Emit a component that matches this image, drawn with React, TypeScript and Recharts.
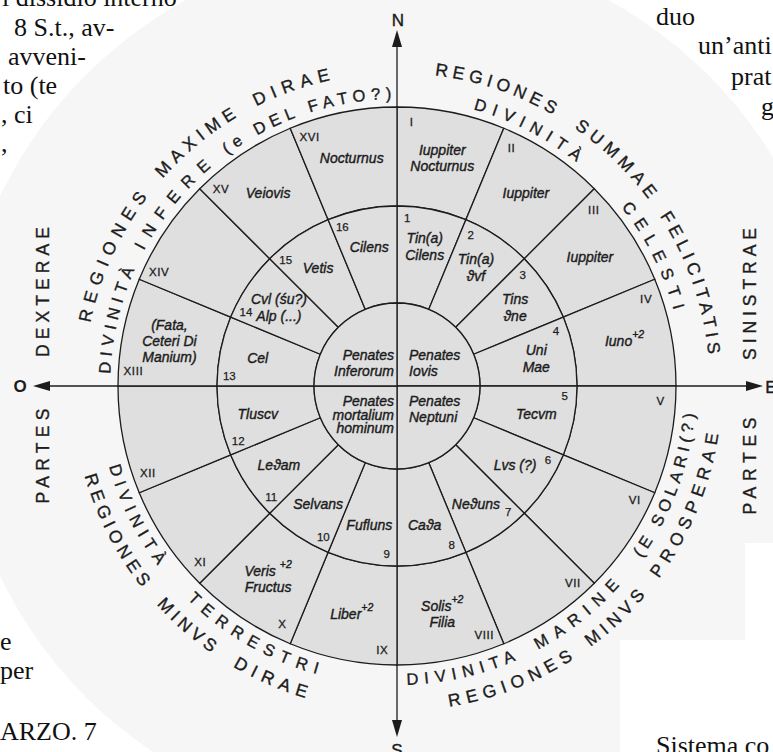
import React from 'react';
import { PieChart, Pie, Cell, Customized } from 'recharts';

const CHART_W = 773;
const CHART_H = 752;
const CX = 397;
const CY = 386;
const RAD = Math.PI / 180;
const R_INNER = 83;
const R_MID = 180;
const R_OUT = 279;

// ---- data: the sixteen outer regions ----
const outerRegionNumerals = ['I', 'II', 'III', 'IV', 'V', 'VI', 'VII', 'VIII', 'IX', 'X', 'XI', 'XII', 'XIII', 'XIV', 'XV', 'XVI'];
const outerRegionDeities: string[][] = [
  ['Iuppiter', 'Nocturnus'],
  ['Iuppiter'],
  ['Iuppiter'],
  ['Iuno^+2'],
  [],
  [],
  [],
  ['Solis^+2', 'Filia'],
  ['Liber^+2'],
  ['Veris ^+2', 'Fructus'],
  [],
  [],
  ['(Fata,', 'Ceteri Di', 'Manium)'],
  [],
  ['Veiovis'],
  ['Nocturnus'],
];
const outerRegionShares = [1, 1, 1, 1, 1, 1, 1, 1, 1, 1, 1, 1, 1, 1, 1, 1];

// ---- data: the sixteen middle regions ----
const middleRegionNumbers = ['1', '2', '3', '4', '5', '6', '7', '8', '9', '10', '11', '12', '13', '14', '15', '16'];
const middleRegionDeities: string[][] = [
  ['Tin(a)', 'Cilens'],
  ['Tin(a)', 'ϑvf'],
  ['Tins', 'ϑne'],
  ['Uni', 'Mae'],
  ['Tecvm'],
  ['Lvs (?)'],
  ['Neϑuns'],
  ['Caϑa'],
  ['Fufluns'],
  ['Selvans'],
  ['Leϑam'],
  ['Tluscv'],
  ['Cel'],
  ['Cvl (śu?)', 'Alp (...)'],
  ['Vetis'],
  ['Cilens'],
];
const middleRegionShares = [1, 1, 1, 1, 1, 1, 1, 1, 1, 1, 1, 1, 1, 1, 1, 1];

// ---- data: the four central quadrants (NE, SE, SW, NW) ----
const innerQuadrantDeities: string[][] = [
  ['Penates', 'Iovis'],
  ['Penates', 'Neptuni'],
  ['Penates', 'mortalium', 'hominum'],
  ['Penates', 'Inferorum'],
];
const innerQuadrantShares = [1, 1, 1, 1];

// ---- curved legends around the disc (compass degrees of first / last letter) ----
const bandTexts = ['REGIONES', 'MAXIME', 'DIRAE', 'DIVINITÀ', 'INFERE', '(e DEL FATO?)',
  'REGIONES', 'SUMMAE', 'FELICITATIS', 'DIVINITÀ', 'CELESTI',
  'DIVINITA', 'MARINE', '(E SOLARI(?)', 'REGIONES', 'MINVS', 'PROSPERAE',
  'DIVINITÀ', 'TERRESTRI', 'REGIONES', 'MINVS', 'DIRAE'];
const bandFrom = [282.8, 312.7, 334.5, 273.7, 299.4, 325.0,
  8.1, 35.7, 58.3, 16.7, 52.7,
  176.9, 150.6, 123.9, 169.6, 142.3, 125.2,
  253.2, 223.3, 252.8, 226.6, 209.2];
const bandTo = [305.9, 328.0, 346.5, 292.6, 318.4, 357.6,
  28.7, 52.2, 83.0, 37.4, 73.4,
  157.8, 133.1, 96.6, 148.3, 131.3, 99.7,
  234.4, 196.8, 232.9, 216.0, 197.5];
const bandOuter = [true, true, true, false, false, false,
  true, true, true, false, false,
  false, false, false, true, true, true,
  false, false, true, true, true];

// ---- side legends ----
const sideTexts = ['DEXTERAE', 'PARTES', 'SINISTRAE', 'PARTES'];
// ---- page text around the figure ----
const pageTexts = ['l dissidio interno', '8 S.t., av-', 'avveni-', 'to (te', ', ci', ',', 'duo', 'un’anti', 'prat', 'g', 'e', 'per', 'ARZO. 7', 'Sistema co'];

const outerData = outerRegionNumerals.map((id, i) => ({ id, lines: outerRegionDeities[i], value: outerRegionShares[i] }));
const middleData = middleRegionNumbers.map((id, i) => ({ id, lines: middleRegionDeities[i], value: middleRegionShares[i] }));
const innerData = innerQuadrantDeities.map((lines, i) => ({ id: 'q' + i, lines, value: innerQuadrantShares[i] }));

const SANS = '"Liberation Sans", Arial, Helvetica, sans-serif';
const SERIF = '"Liberation Serif", "Times New Roman", serif';
const INK = '#1c1c1c';
const DISC = '#dfdfdf';

const toXY = (r: number, c: number) => ({ x: CX + r * Math.sin(c * RAD), y: CY - r * Math.cos(c * RAD) });
const norm = (c: number) => ((c % 360) + 360) % 360;

function lineContent(line: string) {
  const k = line.indexOf('^');
  if (k < 0) return line;
  return (
    <>
      {line.slice(0, k)}
      <tspan dy={-7} fontSize={10.5}>{line.slice(k + 1)}</tspan>
    </>
  );
}

function renderLines(lines: string[], x: number, yCenter: number, anchor: string, lh: number, size: number) {
  const n = lines.length;
  if (!n) return null;
  return (
    <text textAnchor={anchor} fontFamily={SANS} fontStyle="italic" fontSize={size} fill={INK}
      stroke={INK} strokeWidth={0.4} dominantBaseline="central">
      {lines.map((l, i) => (
        <tspan key={i} x={x} y={yCenter - ((n - 1) * lh) / 2 + i * lh}>
          {lineContent(l)}
        </tspan>
      ))}
    </text>
  );
}

const outerLabel = (p: any) => {
  const c = 90 - p.midAngle;
  const d = outerData[p.index];
  const num = toXY(264, c - 11.25 + 3.2);
  const lab = toXY(232, c);
  return (
    <g key={'ol' + p.index}>
      <text x={num.x} y={num.y} textAnchor="middle" dominantBaseline="central" fontFamily={SANS} fontSize={11.5}
        letterSpacing={0.6} fill={INK} stroke={INK} strokeWidth={0.3}>
        {d.id}
      </text>
      {renderLines(d.lines, lab.x, lab.y, 'middle', 16, 14)}
    </g>
  );
};

const middleLabel = (p: any) => {
  const c = 90 - p.midAngle;
  const d = middleData[p.index];
  const num = toXY(168, c - 11.25 + 3.5);
  const lab = toXY(142, c);
  return (
    <g key={'ml' + p.index}>
      <text x={num.x} y={num.y} textAnchor="middle" dominantBaseline="central" fontFamily={SANS} fontSize={11.5}
        fill={INK} stroke={INK} strokeWidth={0.25}>
        {d.id}
      </text>
      {renderLines(d.lines, lab.x, lab.y, 'middle', 17, 14)}
    </g>
  );
};

const innerLabel = (p: any) => {
  const c = norm(90 - p.midAngle);
  const d = innerData[p.index];
  const east = c < 180;
  const north = c < 90 || c > 270;
  const n = d.lines.length;
  const lh = n > 2 ? 13.5 : 16;
  const x = east ? CX + 12 : CX - 3;
  const first = north ? CY - 31 : CY + 15;
  return <g key={'il' + p.index}>{renderLines(d.lines, x, first + ((n - 1) * lh) / 2, east ? 'start' : 'end', lh, 14)}</g>;
};

function arcD(r: number, a1: number, a2: number) {
  const p1 = toXY(r, a1);
  const p2 = toXY(r, a2);
  const sweep = a2 > a1 ? 1 : 0;
  const large = Math.abs(a2 - a1) > 180 ? 1 : 0;
  return `M ${p1.x} ${p1.y} A ${r} ${r} 0 ${large} ${sweep} ${p2.x} ${p2.y}`;
}

const Overlay = () => {
  const arrow = (tipX: number, tipY: number, dx: number, dy: number) => {
    const len = 17;
    const half = 5;
    const bx = tipX - dx * len;
    const by = tipY - dy * len;
    const px = -dy * half;
    const py = dx * half;
    return <polygon points={`${tipX},${tipY} ${bx + px},${by + py} ${bx - px},${by - py}`} fill={INK} />;
  };
  const sideX = [43, 43, 750, 750];
  const sideY = [292, 456, 294, 466];
  const sideLen = [130, 95, 132, 97];
  const pageX = [2, 14, 8, 3, 1, 1, 656, 698, 731, 761, 0, 0, 0, 656];
  const pageY = [6, 36, 65, 94, 123, 152, 25, 54, 85, 115, 650, 679, 740, 754];
  return (
    <g>
      {/* axes */}
      <line x1={CX} y1={40} x2={CX} y2={727} stroke={INK} strokeWidth={1.3} />
      <line x1={43} y1={CY} x2={753} y2={CY} stroke={INK} strokeWidth={1.3} />
      {arrow(CX, 30, 0, -1)}
      {arrow(CX, 737, 0, 1)}
      {arrow(33, CY, -1, 0)}
      {arrow(763, CY, 1, 0)}
      <text x={CX + 1} y={20} textAnchor="middle" dominantBaseline="central" fontFamily={SANS} fontSize={17} fill={INK} stroke={INK} strokeWidth={0.4}>N</text>
      <text x={CX} y={750} textAnchor="middle" dominantBaseline="central" fontFamily={SANS} fontSize={17} fill={INK} stroke={INK} strokeWidth={0.4}>S</text>
      <text x={20} y={CY} textAnchor="middle" dominantBaseline="central" fontFamily={SANS} fontSize={17} fontWeight="bold" fill={INK}>O</text>
      <text x={771} y={CY + 1} textAnchor="middle" dominantBaseline="central" fontFamily={SANS} fontSize={17} fill={INK} stroke={INK} strokeWidth={0.4}>E</text>

      {/* curved legends */}
      <defs>
        {bandTexts.map((t, i) => {
          const r = bandOuter[i] ? 319 : 293;
          const dir = bandTo[i] > bandFrom[i] ? 1 : -1;
          const ext = 6.5 / r / RAD;
          return <path key={i} id={'band' + i} d={arcD(r, bandFrom[i] - dir * ext, bandTo[i] + dir * ext)} fill="none" />;
        })}
      </defs>
      {bandTexts.map((t, i) => {
        const r = bandOuter[i] ? 319 : 293;
        const ext = 6.5 / r / RAD;
        const len = r * (Math.abs(bandTo[i] - bandFrom[i]) + 2 * ext) * RAD;
        return (
          <text key={i} fontFamily={SANS} fontSize={bandOuter[i] ? 17.5 : 16.5} fill={INK} stroke={INK} strokeWidth={0.35}
            dominantBaseline="central">
            <textPath href={'#band' + i} textLength={len} lengthAdjust="spacing">{t}</textPath>
          </text>
        );
      })}

      {/* side legends */}
      {sideTexts.map((t, i) => (
        <text key={i} transform={`translate(${sideX[i]},${sideY[i]}) rotate(-90)`} textAnchor="middle" dominantBaseline="central"
          fontFamily={SANS} fontSize={17.5} fill={INK} stroke={INK} strokeWidth={0.35} textLength={sideLen[i]} lengthAdjust="spacing">{t}</text>
      ))}

      {/* page text */}
      {pageTexts.map((t, i) => (
        <text key={i} x={pageX[i]} y={pageY[i]} fontFamily={SERIF} fontSize={26} fill="#111">{t}</text>
      ))}
    </g>
  );
};

export default function App() {
  return (
    <div style={{ position: 'relative', width: CHART_W, height: CHART_H, overflow: 'hidden', background: '#fff' }}>
      <style>{'body{margin:0}'}</style>
      <div style={{ position: 'absolute', left: CX - 440, top: CY - 440, width: 880, height: 880, borderRadius: '50%', background: '#f6f6f6' }} />
      <div style={{ position: 'absolute', left: 620, top: 640, width: 160, height: 120, background: '#fff' }} />
      <div style={{ position: 'absolute', left: 745, top: 543, width: 40, height: 100, background: '#fff' }} />
      <div style={{ position: 'absolute', left: 0, top: 0 }}>
        <PieChart width={CHART_W} height={CHART_H} margin={{ top: 0, right: 0, bottom: 0, left: 0 }}>
          <Pie data={outerData} dataKey="value" nameKey="id" cx={CX} cy={CY} innerRadius={R_MID} outerRadius={R_OUT}
            startAngle={90} endAngle={-270} isAnimationActive={false} label={outerLabel} labelLine={false}>
            {outerData.map((d) => <Cell key={d.id} fill={DISC} stroke={INK} strokeWidth={1.3} />)}
          </Pie>
          <Pie data={middleData} dataKey="value" nameKey="id" cx={CX} cy={CY} innerRadius={R_INNER} outerRadius={R_MID}
            startAngle={90} endAngle={-270} isAnimationActive={false} label={middleLabel} labelLine={false}>
            {middleData.map((d) => <Cell key={d.id} fill={DISC} stroke={INK} strokeWidth={1.3} />)}
          </Pie>
          <Pie data={innerData} dataKey="value" nameKey="id" cx={CX} cy={CY} innerRadius={0} outerRadius={R_INNER}
            startAngle={90} endAngle={-270} isAnimationActive={false} label={innerLabel} labelLine={false}>
            {innerData.map((d) => <Cell key={d.id} fill={DISC} stroke={INK} strokeWidth={1.3} />)}
          </Pie>
          <Customized component={Overlay} />
        </PieChart>
      </div>
    </div>
  );
}
